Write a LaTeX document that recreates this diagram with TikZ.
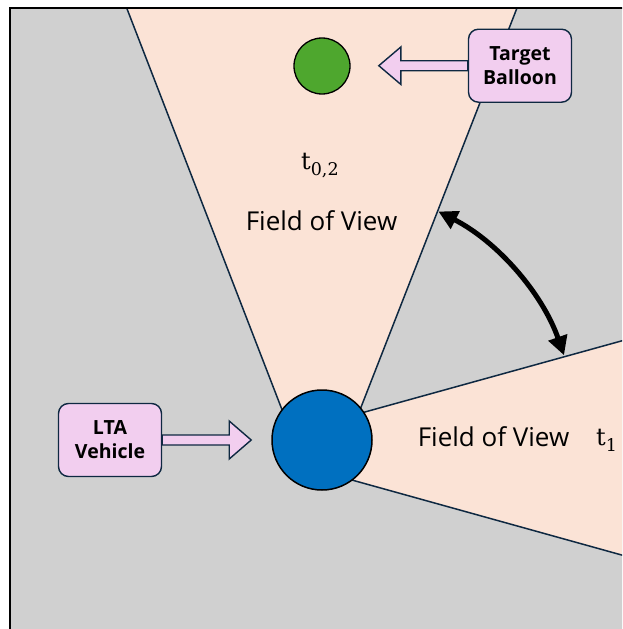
\documentclass[tikz,border=0pt]{standalone}
\usepackage{fontspec}
\setmainfont{Open Sans}
\newfontfamily\tfont{DejaVu Serif}
\usetikzlibrary{arrows.meta,calc}
\definecolor{bggray}{HTML}{D0D0D0}
\definecolor{peach}{HTML}{FBE3D6}
\definecolor{pinkbox}{HTML}{F2CEEF}
\definecolor{navy}{HTML}{0E2841}
\definecolor{vblue}{HTML}{0070C0}
\definecolor{bgreen}{HTML}{4EA72E}
\newcommand{\tsub}[1]{{\tfont\fontsize{24}{26}\selectfont t\raisebox{-6.5pt}{\fontsize{17.5}{18}\selectfont #1}}}
\begin{document}
\begin{tikzpicture}[x=1pt,y=-1pt,
 fov/.style={fill=peach},
 fovline/.style={draw=navy,line width=1.5pt},
 labelbox/.style={draw=navy,line width=1.4pt,fill=pinkbox,rounded corners=10pt,minimum width=103pt,minimum height=73pt,align=center,inner sep=0pt,font=\bfseries\fontsize{19.5}{24}\selectfont},
 barrow/.style={draw=navy,line width=1.4pt,fill=pinkbox,line join=miter},
 fovtext/.style={font=\fontsize{26}{30}\selectfont,inner sep=0pt,anchor=base},
 ttext/.style={inner sep=0pt,anchor=base west},
 dbl/.style={line width=5pt,{Triangle[length=19pt,width=19pt]}-{Triangle[length=19pt,width=19pt]}}
]
\useasboundingbox (0,0) rectangle (622,629);
\clip (0,0) rectangle (622,629);
\fill[white] (0,0) rectangle (622,629);
\fill[bggray] (10,8) rectangle (660,660);

% upper field of view
\coordinate (uL) at (126.7,8);
\coordinate (uR) at (517,8);
\coordinate (uLi) at (286,420);
\coordinate (uRi) at (356,420);
\fill[fov] (uL) -- (uR) -- (uRi) -- (uLi) -- cycle;
\draw[fovline] (uL) -- (uLi) (uR) -- (uRi);

% right field of view
\coordinate (rU) at (640,335.8);
\coordinate (rUi) at (340,418.9);
\coordinate (rL) at (640,560.1);
\coordinate (rLi) at (340,476.7);
\fill[fov] (rUi) -- (rU) -- (rL) -- (rLi) -- cycle;
\draw[fovline] (rUi) -- (rU) (rLi) -- (rL);

% frame
\draw[line width=1.8pt,draw=black] (10,8) rectangle (660,660);

% vehicle and balloon
\node[circle,draw=black,line width=1.5pt,fill=vblue,minimum size=100pt,inner sep=0pt] (veh) at (322,440) {};
\node[circle,draw=black,line width=1.3pt,fill=bgreen,minimum size=56pt,inner sep=0pt] (bal) at (322,66) {};

% label boxes (positions) and block arrows
\coordinate (tbc) at (520,65.7);
\coordinate (ltac) at (110,440);
\path (tbc) node[labelbox,draw=none,fill=none] (tbghost) {\phantom{Balloon}};
\path (ltac) node[labelbox,draw=none,fill=none] (ltaghost) {\phantom{Vehicle}};

\draw[barrow] ($(tbghost.west)+(0,-5)$) -- ++(-67,0) -- ++(0,-13.7) -- ++(-22,18.7) -- ++(22,18.7) -- ++(0,-13.7) -- ++(67,0) -- cycle;
\draw[barrow] ($(ltaghost.east)+(0,-5)$) -- ++(67,0) -- ++(0,-14) -- ++(22,19) -- ++(-22,19) -- ++(0,-14) -- ++(-67,0) -- cycle;

\node[labelbox] (tb) at (tbc) {Target\\Balloon};
\node[labelbox] (lta) at (ltac) {LTA\\Vehicle};

% texts
\node[fovtext] (fov1) at (321.5,230.7) {Field of View};
\node[ttext] (t02) at (301,169) {\tsub{0,2}};
\node[fovtext] (fov2) at (493.5,446.7) {Field of View};
\node[ttext] (t1) at (596,445) {\tsub{1}};

% rotation arrow
\draw[dbl] ($(veh.center)+(116.4,-228.5)$) arc[start angle=63, end angle=19.3, radius=256.5pt];
\end{tikzpicture}
\end{document}
